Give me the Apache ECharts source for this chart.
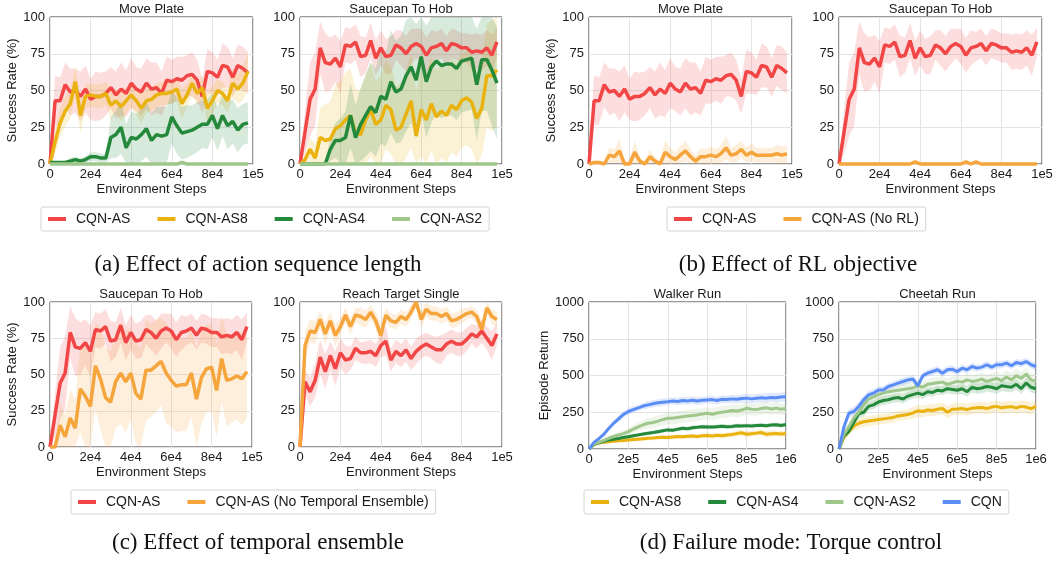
<!DOCTYPE html>
<html>
<head>
<meta charset="utf-8">
<script src="https://cdn.jsdelivr.net/npm/echarts@6/dist/echarts.min.js"></script>
<style>
html,body{margin:0;padding:0;background:#fff}
#chart{width:1056px;height:561px}
</style>
</head>
<body>
<div id="chart"></div>
<script>
// x positions (environment steps)
var stepsShort = [0,2500,5000,7500,10000,12500,15000,17500,20000,22500,25000,27500,30000,32500,35000,37500,40000,42500,45000,47500,50000,52500,55000,57500,60000,62500,65000,67500,70000,72500,75000,77500,80000,82500,85000,87500,90000,92500,95000,97500];
var stepsLong = [0,25000,50000,75000,100000,125000,150000,175000,200000,225000,250000,275000,300000,325000,350000,375000,400000,425000,450000,475000,500000,525000,550000,575000,600000,625000,650000,675000,700000,725000,750000,775000,800000,825000,850000,875000,900000,925000,950000,975000,1000000];

// Move Plate
var mpRed   = [0,43,43,54,49,50,46,51,44,46, 46,48,52,47,51,48,55,51,49,55, 51,52,48,57,56,58,57,60,61,57, 46,63,62,59,67,66,59,67,65,62];
var mpRedSd = [4,17,16,15,16,15,17,16,14,17, 16,15,14,16,18,16,17,15,16,17, 18,17,15,16,15,15,16,14,15,14, 12,15,14,12,15,14,13,14,15,14];
var mpAS8   = [0,15,28,36,41,56,33,46,47,46, 46,48,40,43,39,43,47,43,38,43, 44,47,48,48,49,51,41,47,55,48, 52,38,43,50,48,43,55,51,55,63];
var mpAS8Sd = [0,8,10,10,10,10,12,8,8,8, 8,8,10,8,10,9,8,10,10,8, 8,8,8,8,8,8,10,8,8,8, 8,10,10,8,8,8,10,10,12,12];
var mpAS4   = [1,1,1,1,2,3,2,3,5,5, 4,4,18,20,25,11,18,17,20,24, 16,20,19,20,32,26,21,22,23,25, 27,27,33,24,33,26,29,23,27,28];
var mpAS4Sd = [1,1,1,1,2,2,2,2,3,3, 3,3,14,16,18,16,18,17,18,19, 18,19,20,19,18,19,18,18,17,17, 16,17,15,15,14,16,15,15,14,14];
var mpAS2   = [0,0,0,0,0,0,0,0,0,0, 0,0,0,0,0,0,0,0,0,0, 0,0,0,0,0,0,1,0,0,0, 0,0,0,0,0,0,0,0,0,0];
var mpNoRL   = [0,1,1,0,6,5,9,0,0,8, 2,0,5,2,0,8,5,3,6,9, 5,2,5,5,6,5,7,11,6,7, 10,6,8,6,6,6,6,7,6,7];
var mpNoRLSd = [0,1,1,1,5,5,8,2,2,8, 3,2,5,3,2,8,6,5,6,7, 5,4,6,5,6,5,6,8,5,6, 6,5,6,5,5,5,5,6,6,6];

// Saucepan To Hob
var shRed   = [0,22,44,51,79,69,68,72,66,81, 80,83,73,74,84,72,79,73,74,81, 79,75,80,82,80,74,79,80,82,77, 82,81,79,79,76,77,76,79,74,83];
var shRedSd = [0,15,25,25,18,20,18,16,18,12, 12,12,14,12,12,12,12,12,13,10, 12,12,12,10,12,12,12,10,10,10, 10,10,10,10,12,12,12,12,14,10];
var shAS8   = [0,3,10,4,18,16,17,24,26,30, 33,21,20,30,37,27,30,40,37,23, 25,34,43,19,37,30,41,32,36,33, 40,37,43,45,42,31,38,60,60,64];
var shAS8Sd = [0,3,8,10,20,25,25,30,30,32, 32,30,30,30,32,30,30,30,30,30, 30,30,32,30,32,32,32,32,32,32, 32,32,32,32,32,32,32,35,38,38];
var shAS4   = [0,0,0,0,0,0,10,16,16,18, 33,18,27,33,39,35,46,44,56,49, 51,60,66,57,73,56,66,70,67,68, 68,65,70,71,72,54,71,71,64,55];
var shAS4Sd = [0,0,0,0,0,0,8,12,15,18, 22,22,25,28,30,30,32,32,35,35, 36,38,38,38,38,38,38,36,36,35, 35,35,35,35,35,38,35,35,38,38];
var shAS2   = [0,0,0,0,0,0,0,0,0,0, 0,0,0,0,0,0,0,0,0,0, 0,0,0,0,0,0,0,0,0,0, 0,0,0,0,0,0,0,0,0,0];
var shNoRL  = [0,0,0,0,0,0,0,0,0,0, 0,0,0,0,0,1.5,0,0,0,0, 0,0,0,0,0,1.5,0,1.5,0,0, 0,0,0,0,0,0,0,0,0,0];
var shNoTE   = [0,0,15,7,20,13,40,35,28,56, 47,34,31,45,51,45,51,37,33,53, 53,56,59,51,46,42,43,43,51,33, 48,54,55,39,61,46,47,49,47,52];
var shNoTESd = [0,0,15,15,20,20,30,35,35,30, 35,35,35,32,35,35,32,35,35,35, 32,32,30,35,32,32,32,32,30,35, 32,30,30,32,30,32,30,30,32,32];

// Reach Target Single
var rtRed    = [0,45,38,46,62,52,63,54,65,60, 61,68,65,65,66,63,70,73,60,66, 63,67,61,66,69,71,69,67,67,71, 73,71,71,74,78,76,80,75,70,78];
var rtRedSd  = [0,8,10,12,12,12,10,12,10,10, 8,8,7,8,8,8,8,10,8,8, 8,8,8,9,8,8,8,9,10,8, 8,8,8,8,7,8,8,8,10,8];
var rtNoTE   = [0,70,80,79,88,78,87,77,83,91, 83,91,90,88,93,87,77,91,87,86, 90,88,93,100,88,95,92,92,90,92, 87,88,90,92,93,90,81,96,90,88];
var rtNoTESd = [0,10,8,8,6,8,6,8,6,5, 6,5,6,6,5,6,8,5,5,5, 5,5,5,3,6,5,5,5,5,5, 5,5,5,4,4,5,6,4,5,5];

// Walker Run
var wkCQN   = [0,45,70,100,140,175,205,235,255,268, 280,292,300,308,314,318,322,327,323,330, 327,332,326,331,334,336,330,338,336,341, 338,343,346,341,345,348,346,351,349,353, 355];
var wkCQNSd = [0,10,12,15,18,20,22,22,22,22, 20,22,24,25,25,25,25,24,25,25, 26,26,26,25,25,26,25,26,27,28, 28,28,30,30,30,30,32,32,32,32, 32];
var wkAS2   = [0,35,45,58,73,85,95,105,118,135, 150,165,175,180,190,200,209,210,215,220, 225,228,232,238,243,236,245,250,255,262, 258,265,277,270,268,275,280,272,278,270, 275];
var wkAS2Sd = [0,8,10,12,15,18,20,22,25,28, 30,32,35,38,40,40,42,42,42,42, 42,42,42,40,40,40,40,40,40,40, 42,42,42,42,42,42,40,40,40,40, 40];
var wkAS4   = [0,32,42,52,61,67,72,78,84,90, 96,102,107,112,118,124,130,128,135,141, 138,145,148,152,150,149,152,155,152,153, 158,157,159,156,160,162,158,163,165,160, 166];
var wkAS4Sd = [0,5,6,8,8,10,10,10,12,12, 12,12,12,12,14,14,14,14,14,14, 14,15,14,14,15,14,14,15,14,14, 15,14,14,15,14,14,15,14,14,15, 14];
var wkAS8   = [0,30,40,45,50,53,56,58,61,64, 67,70,73,75,78,80,78,82,85,83, 86,88,85,90,92,88,93,90,95,98, 105,110,100,104,108,112,100,104,106,102, 105];
var wkAS8Sd = [0,6,8,10,10,12,12,12,14,14, 14,14,15,15,15,15,15,15,16,16, 16,16,16,16,18,18,18,18,18,18, 20,20,20,20,20,20,20,20,20,20, 20];

// Cheetah Run
var chCQN   = [0,150,243,255,289,334,368,380,402,402, 425,436,448,459,470,477,430,498,516,527, 539,516,539,543,527,550,539,561,550,557, 573,557,573,573,584,566,589,580,595,573, 561];
var chCQNSd = [0,30,30,30,30,30,28,28,25,25, 25,25,25,25,25,25,30,25,25,25, 25,25,25,25,25,25,25,25,25,25, 25,25,25,25,25,25,25,25,25,25, 30];
var chAS2   = [0,100,150,210,250,300,340,355,370,380, 390,395,400,405,410,415,430,420,440,445, 450,455,440,450,460,455,470,460,465,475, 460,470,480,465,490,470,500,480,510,470, 460];
var chAS2Sd = [0,30,30,35,35,35,35,35,35,35, 35,35,35,40,40,40,40,40,40,40, 40,40,40,45,45,45,45,45,45,45, 45,45,45,45,45,45,45,45,45,45, 45];
var chAS4   = [0,90,120,180,240,250,290,300,320,330, 335,345,350,340,360,370,380,370,390,385, 400,395,410,405,400,410,390,420,410,415, 425,420,410,430,425,420,440,410,450,420, 410];
var chAS4Sd = [0,25,25,30,30,30,30,30,30,30, 30,30,30,30,30,30,30,30,30,30, 30,30,30,30,30,35,35,35,35,35, 35,35,35,35,35,35,35,35,35,35, 35];
var chAS8   = [0,80,120,155,175,185,190,195,200,205, 210,215,225,230,235,245,260,255,265,262, 270,275,250,270,272,275,268,278,280,282, 275,285,290,280,285,288,280,290,285,275, 290];
var chAS8Sd = [0,20,25,30,35,35,35,35,35,35, 35,35,35,35,35,40,40,40,40,40, 40,40,40,40,40,40,40,40,40,40, 40,40,40,40,40,40,40,40,40,40, 40];

var COL = {
    as: '#f24646', as8: '#e9b20f', as4: '#24893b', as2: '#9fc78c',
    orange: '#f5a53c', cqn: '#5b8df6'
};
var SANS = '"Liberation Sans", Arial, sans-serif';
var SERIF = '"Liberation Serif", "Times New Roman", serif';

var panels = [
    {title: 'Move Plate', left: 50, top: 17, w: 203, h: 147, xs: stepsShort, xmax: 100000, xint: 20000, ymax: 100, yint: 25, yname: 'Success Rate (%)', ygap: 27, lw: 3.5,
     lines: [['CQN-AS', COL.as, mpRed, mpRedSd], ['CQN-AS8', COL.as8, mpAS8, mpAS8Sd], ['CQN-AS4', COL.as4, mpAS4, mpAS4Sd], ['CQN-AS2', COL.as2, mpAS2, null]]},
    {title: 'Saucepan To Hob', left: 300, top: 17, w: 202, h: 147, xs: stepsShort, xmax: 100000, xint: 20000, ymax: 100, yint: 25, lw: 3.5,
     lines: [['CQN-AS', COL.as, shRed, shRedSd], ['CQN-AS8', COL.as8, shAS8, shAS8Sd], ['CQN-AS4', COL.as4, shAS4, shAS4Sd], ['CQN-AS2', COL.as2, shAS2, null]]},
    {title: 'Move Plate', left: 589, top: 17, w: 203, h: 147, xs: stepsShort, xmax: 100000, xint: 20000, ymax: 100, yint: 25, yname: 'Success Rate (%)', ygap: 27, lw: 3.5,
     lines: [['CQN-AS', COL.as, mpRed, mpRedSd], ['CQN-AS (No RL)', COL.orange, mpNoRL, mpNoRLSd]]},
    {title: 'Saucepan To Hob', left: 839, top: 17, w: 203, h: 147, xs: stepsShort, xmax: 100000, xint: 20000, ymax: 100, yint: 25, lw: 3.5,
     lines: [['CQN-AS', COL.as, shRed, shRedSd], ['CQN-AS (No RL)', COL.orange, shNoRL, null]]},
    {title: 'Saucepan To Hob', left: 50, top: 302, w: 202, h: 145, xs: stepsShort, xmax: 100000, xint: 20000, ymax: 100, yint: 25, yname: 'Success Rate (%)', ygap: 27, lw: 3.5,
     lines: [['CQN-AS', COL.as, shRed, shRedSd], ['CQN-AS (No Temporal Ensemble)', COL.orange, shNoTE, shNoTESd]]},
    {title: 'Reach Target Single', left: 300, top: 302, w: 202, h: 145, xs: stepsShort, xmax: 100000, xint: 20000, ymax: 100, yint: 25, lw: 3.5,
     lines: [['CQN-AS', COL.as, rtRed, rtRedSd], ['CQN-AS (No Temporal Ensemble)', COL.orange, rtNoTE, rtNoTESd]]},
    {title: 'Walker Run', left: 589, top: 302, w: 197, h: 147, xs: stepsLong, xmax: 1000000, xint: 200000, ymax: 1000, yint: 250, yname: 'Episode Return', ygap: 37, lw: 3,
     lines: [['CQN-AS8', COL.as8, wkAS8, wkAS8Sd], ['CQN-AS4', COL.as4, wkAS4, wkAS4Sd], ['CQN-AS2', COL.as2, wkAS2, wkAS2Sd], ['CQN', COL.cqn, wkCQN, wkCQNSd]]},
    {title: 'Cheetah Run', left: 839, top: 302, w: 197, h: 147, xs: stepsLong, xmax: 1000000, xint: 200000, ymax: 1000, yint: 250, lw: 3,
     lines: [['CQN-AS8', COL.as8, chAS8, chAS8Sd], ['CQN-AS4', COL.as4, chAS4, chAS4Sd], ['CQN-AS2', COL.as2, chAS2, chAS2Sd], ['CQN', COL.cqn, chCQN, chCQNSd]]}
];

function sciLabel(v) {
    if (v === 0) return '0';
    return v.toExponential().replace('+', '');
}

// std band drawn as one polygon through the axis scales
function bandSeries(i, xs, ys, sd, color, ymax) {
    var lo = [], hi = [];
    for (var j = 0; j < ys.length; j++) {
        lo.push(Math.max(0, ys[j] - sd[j]));
        hi.push(Math.min(ymax, ys[j] + sd[j]));
    }
    return {
        type: 'custom', xAxisIndex: i, yAxisIndex: i, silent: true, z: 1,
        data: [[xs[0], ys[0]]],
        renderItem: function (params, api) {
            var pts = [];
            for (var k = 0; k < xs.length; k++) pts.push(api.coord([xs[k], hi[k]]));
            for (var k2 = xs.length - 1; k2 >= 0; k2--) pts.push(api.coord([xs[k2], lo[k2]]));
            return {type: 'polygon', shape: {points: pts}, style: {fill: color, opacity: 0.18}};
        }
    };
}

var grids = [], xAxes = [], yAxes = [], series = [], graphics = [];

panels.forEach(function (p, i) {
    grids.push({left: p.left, top: p.top, width: p.w, height: p.h, show: true, borderColor: '#333', borderWidth: 1, backgroundColor: 'transparent'});
    xAxes.push({
        type: 'value', gridIndex: i, min: 0, max: p.xmax, interval: p.xint,
        axisLine: {show: false}, axisTick: {show: false},
        splitLine: {show: true, lineStyle: {color: '#e4e4e4', width: 1}},
        axisLabel: {formatter: sciLabel, fontSize: 13, color: '#1a1a1a', margin: 4, fontFamily: SANS},
        name: 'Environment Steps', nameLocation: 'middle', nameGap: 19,
        nameTextStyle: {fontSize: 13, color: '#1a1a1a', fontFamily: SANS}
    });
    yAxes.push({
        type: 'value', gridIndex: i, min: 0, max: p.ymax, interval: p.yint,
        axisLine: {show: false}, axisTick: {show: false},
        splitLine: {show: true, lineStyle: {color: '#e4e4e4', width: 1}},
        axisLabel: {formatter: function (v) { return String(v); }, fontSize: 13, color: '#1a1a1a', margin: 5, fontFamily: SANS},
        name: p.yname || '', nameLocation: 'middle', nameGap: p.ygap || 30,
        nameTextStyle: {fontSize: 13, color: '#1a1a1a', fontFamily: SANS}
    });
    p.lines.forEach(function (l) {
        if (l[3]) series.push(bandSeries(i, p.xs, l[2], l[3], l[1], p.ymax));
    });
    p.lines.forEach(function (l, k) {
        series.push({
            type: 'line', name: l[0], xAxisIndex: i, yAxisIndex: i,
            data: p.xs.map(function (x, j) { return [x, l[2][j]]; }),
            symbol: 'none', showSymbol: false, clip: false, z: 2 + k,
            lineStyle: {color: l[1], width: p.lw}, itemStyle: {color: l[1]}
        });
    });
    graphics.push({
        type: 'text', x: p.left + p.w / 2, y: p.top - 8,
        style: {text: p.title, fontSize: 13, fontFamily: SANS, fill: '#1a1a1a', align: 'center', verticalAlign: 'middle'}
    });
});

var captions = [
    ['(a) Effect of action sequence length', 258, 265],
    ['(b) Effect of RL objective', 798, 265],
    ['(c) Effect of temporal ensemble', 258, 543],
    ['(d) Failure mode: Torque control', 791, 543]
];
captions.forEach(function (c) {
    graphics.push({
        type: 'text', x: c[1], y: c[2],
        style: {text: c[0], fontSize: 23, fontFamily: SERIF, fill: '#111', align: 'center', verticalAlign: 'middle'}
    });
});

var legendBase = {
    orient: 'horizontal', icon: 'rect', itemWidth: 18, itemHeight: 4, itemGap: 27,
    padding: [5, 7], borderColor: '#d4d4d4', borderWidth: 1, borderRadius: 2,
    textStyle: {fontSize: 14, color: '#1a1a1a', fontFamily: SANS, padding: [0, 0, 0, 5]}
};
function legendAt(names, left, top) {
    return Object.assign({}, legendBase, {data: names, left: left, top: top});
}

var myChart = echarts.init(document.getElementById('chart'));
myChart.setOption({
    animation: false,
    backgroundColor: '#fff',
    grid: grids,
    xAxis: xAxes,
    yAxis: yAxes,
    legend: [
        legendAt(['CQN-AS', 'CQN-AS8', 'CQN-AS4', 'CQN-AS2'], 41, 207),
        legendAt(['CQN-AS', 'CQN-AS (No RL)'], 667, 207),
        legendAt(['CQN-AS', 'CQN-AS (No Temporal Ensemble)'], 71, 490),
        legendAt(['CQN-AS8', 'CQN-AS4', 'CQN-AS2', 'CQN'], 584, 490)
    ],
    graphic: graphics,
    series: series
});
</script>
</body>
</html>
